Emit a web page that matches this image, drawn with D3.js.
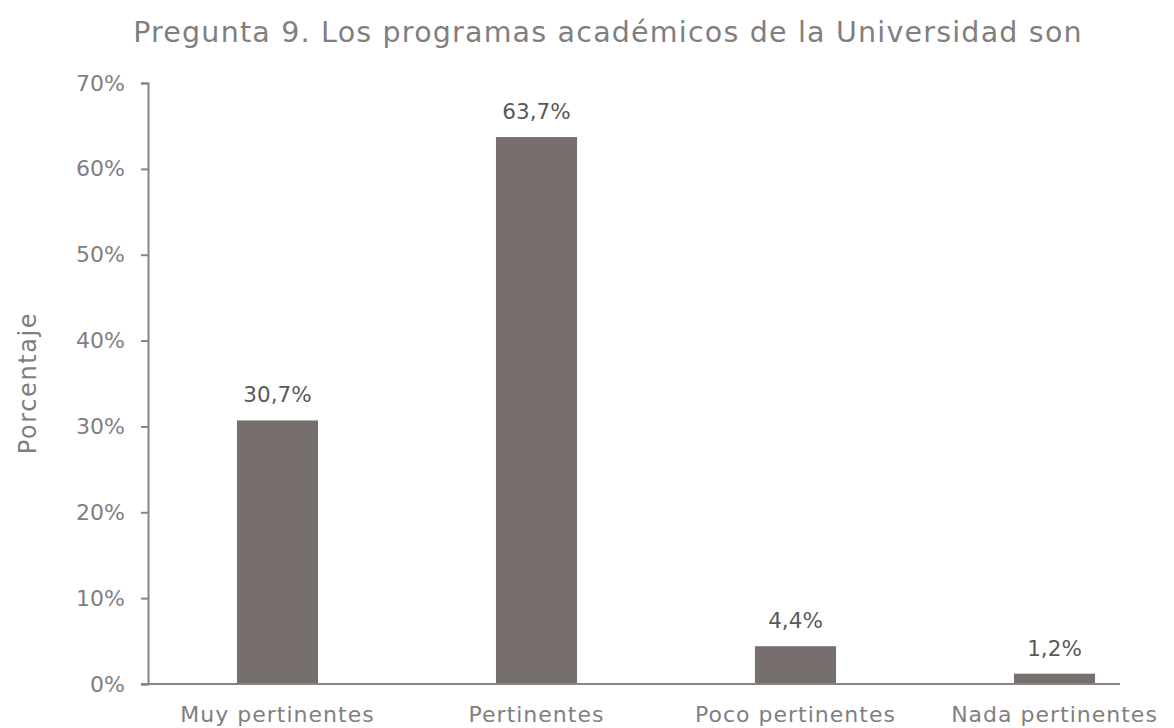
<!DOCTYPE html>
<html>
<head>
<meta charset="utf-8">
<script src="https://cdnjs.cloudflare.com/ajax/libs/d3/7.8.5/d3.min.js"></script>
<style>
  body { margin: 0; background: #fff; }
  text { font-family: "DejaVu Sans", sans-serif; }
</style>
</head>
<body>
<div id="canvas"></div>
<script>
var categories = ['Muy pertinentes', 'Pertinentes', 'Poco pertinentes', 'Nada pertinentes'];
var values = [30.7, 63.7, 4.4, 1.2];
var yTicks = [0, 10, 20, 30, 40, 50, 60, 70];

var W = 1174, H = 728;
var m = {t: 83, r: -10, b: 44, l: 148};

var svg = d3.select('#canvas').append('svg')
    .attr('width', W).attr('height', H);

var x = d3.scaleBand()
    .domain(categories)
    .range([m.l, W - m.r])
    .paddingInner(0.687)
    .paddingOuter(0.3435);

var y = d3.scaleLinear()
    .domain([0, 70])
    .range([H - m.b, m.t]);

var axisColor = '#8a8384';

// title
svg.append('text')
    .attr('x', 608).attr('y', 42)
    .attr('text-anchor', 'middle')
    .style('font-size', '28.5px')
    .style('letter-spacing', '1.2px')
    .style('fill', '#7f7f7f')
    .text('Pregunta 9. Los programas académicos de la Universidad son');

// y axis
var yAxis = svg.append('g')
    .attr('transform', 'translate(' + m.l + ',0)')
    .call(d3.axisLeft(y).tickValues(yTicks).tickSize(7).tickPadding(16)
        .tickFormat(function(d){ return d + '%'; }));
yAxis.select('.domain').attr('stroke', axisColor).attr('stroke-width', 2);
yAxis.selectAll('.tick line').attr('stroke', axisColor).attr('stroke-width', 2);
yAxis.selectAll('.tick text')
    .style('font-family', '"DejaVu Sans", sans-serif')
    .style('font-size', '22px').style('fill', '#7f7f7f');

// y label
svg.append('text')
    .attr('transform', 'translate(36,383) rotate(-90)')
    .attr('text-anchor', 'middle')
    .style('font-size', '24px')
    .style('letter-spacing', '1.6px')
    .style('fill', '#7f7f7f')
    .text('Porcentaje');

// bars
svg.selectAll('.bar')
    .data(values)
    .enter().append('rect')
    .attr('class', 'bar')
    .attr('x', function(d, i){ return x(categories[i]); })
    .attr('width', x.bandwidth())
    .attr('y', function(d){ return y(d); })
    .attr('height', function(d){ return y(0) - y(d); })
    .attr('fill', '#776e6e');

// x axis line
svg.append('line')
    .attr('x1', m.l - 7).attr('x2', 1120)
    .attr('y1', y(0)).attr('y2', y(0))
    .attr('stroke', axisColor).attr('stroke-width', 2);

// value labels
svg.selectAll('.val')
    .data(values)
    .enter().append('text')
    .attr('class', 'val')
    .attr('x', function(d, i){ return x(categories[i]) + x.bandwidth() / 2; })
    .attr('y', function(d){ return y(d) - 18; })
    .attr('text-anchor', 'middle')
    .style('font-size', '21.5px')
    .style('fill', '#595959')
    .text(function(d){ return String(d).replace('.', ',') + '%'; });

// category labels
svg.selectAll('.cat')
    .data(categories)
    .enter().append('text')
    .attr('class', 'cat')
    .attr('x', function(d){ return x(d) + x.bandwidth() / 2; })
    .attr('y', 722)
    .attr('text-anchor', 'middle')
    .style('font-size', '22px')
    .style('letter-spacing', '1px')
    .style('fill', '#7f7f7f')
    .text(function(d){ return d; });
</script>
</body>
</html>
